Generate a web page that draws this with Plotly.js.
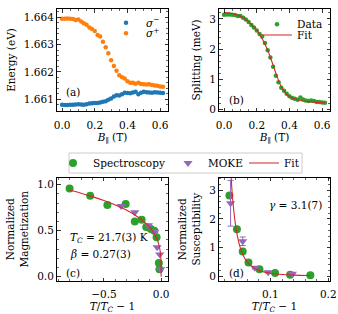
<!DOCTYPE html>
<html><head><meta charset="utf-8">
<script src="https://cdn.plot.ly/plotly-3.0.1.min.js"></script>
<style>html,body{margin:0;padding:0;background:#fff;}#chart{width:338px;height:314px;}</style>
</head><body><div id="chart"></div>
<script>
// ---------- data ----------
const fieldB = [0, 0.017, 0.033, 0.05, 0.067, 0.083, 0.1, 0.117, 0.133, 0.15, 0.167, 0.183, 0.2, 0.217, 0.233, 0.25, 0.267, 0.283, 0.3, 0.317, 0.333, 0.35, 0.367, 0.383, 0.4, 0.417, 0.433, 0.45, 0.467, 0.483, 0.5, 0.517, 0.533, 0.55, 0.567, 0.583, 0.6, 0.617];
const energySigmaMinus = [1.66080, 1.66079, 1.66079, 1.66080, 1.66080, 1.66081, 1.66082, 1.66081, 1.66080, 1.66082, 1.66084, 1.66085, 1.66086, 1.66086, 1.66088, 1.66091, 1.66093, 1.66098, 1.66103, 1.66110, 1.66115, 1.66114, 1.66118, 1.66124, 1.66123, 1.66122, 1.66125, 1.66127, 1.66118, 1.66124, 1.66127, 1.66126, 1.66125, 1.66124, 1.66126, 1.66125, 1.66124, 1.66123];
const energySigmaPlus = [1.66394, 1.66394, 1.66395, 1.66394, 1.66393, 1.66390, 1.66392, 1.66384, 1.66378, 1.66372, 1.66362, 1.66357, 1.66350, 1.66335, 1.66329, 1.66310, 1.66290, 1.66268, 1.66243, 1.66222, 1.66204, 1.66188, 1.66180, 1.66176, 1.66166, 1.66160, 1.66160, 1.66157, 1.66160, 1.66156, 1.66155, 1.66154, 1.66155, 1.66152, 1.66150, 1.66149, 1.66147, 1.66146];
const splittingData = [3.14, 3.15, 3.15, 3.14, 3.13, 3.10, 3.10, 3.04, 2.98, 2.90, 2.80, 2.72, 2.62, 2.50, 2.42, 2.20, 1.96, 1.72, 1.42, 1.12, 0.90, 0.72, 0.62, 0.52, 0.44, 0.38, 0.36, 0.32, 0.40, 0.33, 0.30, 0.28, 0.30, 0.28, 0.25, 0.25, 0.23, 0.22];
const fitB = [0, 0.05, 0.1, 0.15, 0.2, 0.225, 0.25, 0.275, 0.3, 0.325, 0.35, 0.375, 0.4, 0.45, 0.5, 0.55, 0.6, 0.617];
const fitSplitting = [3.21, 3.18, 3.09, 2.91, 2.62, 2.42, 2.17, 1.85, 1.47, 1.08, 0.76, 0.55, 0.43, 0.32, 0.27, 0.245, 0.225, 0.22];

const tSpecM = [-0.80, -0.62, -0.47, -0.31, -0.23, -0.17, -0.13, -0.09, -0.06, -0.04, -0.02, -0.015];
const magSpec = [0.96, 0.88, 0.78, 0.79, 0.60, 0.62, 0.54, 0.52, 0.50, 0.43, 0.15, 0.08];
const tMokeM = [-0.35, -0.23, -0.11, -0.055, -0.035, -0.012, -0.004];
const magMoke = [0.77, 0.70, 0.56, 0.49, 0.32, 0.24, 0.08];
const tFitM = [-0.8, -0.7, -0.6, -0.5, -0.4, -0.3, -0.2, -0.15, -0.1, -0.07, -0.05, -0.03, -0.02, -0.01, -0.005, -0.002, -0.001, -0.0003, 0];
const magFit = [0.942, 0.908, 0.871, 0.829, 0.781, 0.722, 0.647, 0.599, 0.537, 0.488, 0.445, 0.388, 0.348, 0.288, 0.239, 0.187, 0.155, 0.112, 0];

const tSpecChi = [0.029, 0.042, 0.052, 0.062, 0.081, 0.108, 0.134, 0.169];
const chiSpec = [2.82, 1.64, 0.86, 0.48, 0.24, 0.11, 0.05, 0.03];
const tMokeChi = [0.031, 0.052, 0.073, 0.096, 0.138];
const chiMoke = [2.55, 1.22, 0.29, 0.14, 0.08];
const chiMokeErr = [0.80, 0.15, 0.04, 0.03, 0.03];
const tFitChi = [0.030, 0.032, 0.035, 0.04, 0.045, 0.05, 0.055, 0.06, 0.07, 0.08, 0.09, 0.10, 0.12, 0.14, 0.168];
const chiFit = [4.22, 3.45, 2.61, 1.73, 1.20, 0.865, 0.644, 0.491, 0.305, 0.201, 0.140, 0.101, 0.057, 0.036, 0.020];

// ---------- styling ----------
const W = 338, H = 314;
const px = v => v / W, py = v => 1 - v / H;
const BLUE = '#1f77b4', ORANGE = '#ff7f0e', GREEN = '#2ca02c', RED = '#d62728', PURPLE = '#9467bd';
const FS = 10.5;
const FONT = 'DejaVu Serif';

function ax(extra) {
  return Object.assign({
    showline: true, linecolor: '#000', linewidth: 1, mirror: 'allticks',
    ticks: 'inside', ticklen: 3.5, tickwidth: 0.8, tickcolor: '#000',
    showgrid: false, zeroline: false, fixedrange: true,
    tickfont: {family: FONT, size: FS, color: '#000'},
  }, extra);
}
function minor(d) { return {dtick: d, ticks: 'inside', ticklen: 2, tickwidth: 0.6, tickcolor: '#000', showgrid: false}; }
function ttl(text, standoff) { return {text: text, font: {family: FONT, size: FS, color: '#000'}, standoff: standoff}; }

const colL = [px(57), px(168)], colR = [px(219), px(330)];
const rowT = [py(111), py(9)], rowB = [py(281), py(177.5)];

const traces = [
  {x: fieldB, y: energySigmaMinus, xaxis: 'x', yaxis: 'y', type: 'scatter', mode: 'markers', name: '<i>σ</i><sup>−</sup>',
   marker: {color: BLUE, size: 4.5}, legend: 'legend'},
  {x: fieldB, y: energySigmaPlus, xaxis: 'x', yaxis: 'y', type: 'scatter', mode: 'markers', name: '<i>σ</i><sup>+</sup>',
   marker: {color: ORANGE, size: 4.5}, legend: 'legend2'},
  {x: fieldB, y: splittingData, xaxis: 'x2', yaxis: 'y2', type: 'scatter', mode: 'markers', name: 'Data',
   marker: {color: GREEN, size: 4.5}, legend: 'legend3'},
  {x: fitB, y: fitSplitting, xaxis: 'x2', yaxis: 'y2', type: 'scatter', mode: 'lines', name: 'Fit',
   line: {color: RED, width: 1.1, shape: 'spline'}, legend: 'legend4'},
  {x: tSpecM, y: magSpec, xaxis: 'x3', yaxis: 'y3', type: 'scatter', mode: 'markers', name: 'Spectroscopy',
   marker: {color: GREEN, size: 8}, legend: 'legend5'},
  {x: tMokeM, y: magMoke, xaxis: 'x3', yaxis: 'y3', type: 'scatter', mode: 'markers', name: 'MOKE',
   marker: {color: PURPLE, size: 8, symbol: 'triangle-down'}, legend: 'legend6'},
  {x: tFitM, y: magFit, xaxis: 'x3', yaxis: 'y3', type: 'scatter', mode: 'lines', name: 'Fit',
   line: {color: RED, width: 1.1, shape: 'spline'}, legend: 'legend7'},
  {x: tSpecChi, y: chiSpec, xaxis: 'x4', yaxis: 'y4', type: 'scatter', mode: 'markers', name: 'Spectroscopy',
   marker: {color: GREEN, size: 8}, showlegend: false},
  {x: tMokeChi, y: chiMoke, xaxis: 'x4', yaxis: 'y4', type: 'scatter', mode: 'markers', name: 'MOKE',
   marker: {color: PURPLE, size: 8, symbol: 'triangle-down'}, showlegend: false,
   error_y: {type: 'data', array: chiMokeErr, visible: true, color: PURPLE, thickness: 1, width: 3}},
  {x: tFitChi, y: chiFit, xaxis: 'x4', yaxis: 'y4', type: 'scatter', mode: 'lines', name: 'Fit',
   line: {color: RED, width: 1.1, shape: 'spline'}, showlegend: false},
];

function leg(xp, yp) {
  return {x: px(xp), y: py(yp), xanchor: 'left', yanchor: 'middle', bgcolor: 'rgba(0,0,0,0)', borderwidth: 0,
          font: {family: FONT, size: FS, color: '#000'}, itemclick: false, itemdoubleclick: false};
}

const ann = (t, x, y, xa) => ({text: t, x: px(x), y: py(y), xref: 'paper', yref: 'paper', showarrow: false,
  xanchor: xa || 'left', yanchor: 'middle', font: {family: FONT, size: FS, color: '#000'}});

const layout = {
  width: W, height: H, margin: {l: 0, r: 0, t: 0, b: 0},
  paper_bgcolor: '#fff', plot_bgcolor: '#fff',
  font: {family: FONT, size: FS, color: '#000'},
  showlegend: true,
  xaxis: ax({domain: colL, anchor: 'y', range: [-0.031, 0.648], tick0: 0, dtick: 0.2, tickformat: '.1f', minor: minor(0.05),
    ticklabelstandoff: 4, title: ttl('<i>B</i><sub>∥</sub> (T)', 2)}),
  yaxis: ax({domain: rowT, anchor: 'x', range: [1.66057, 1.6643], tick0: 1.661, dtick: 0.001, tickformat: '.3f', minor: minor(0.0002),
    title: ttl('Energy (eV)', 6)}),
  xaxis2: ax({domain: colR, anchor: 'y2', range: [-0.031, 0.648], tick0: 0, dtick: 0.2, tickformat: '.1f', minor: minor(0.05),
    ticklabelstandoff: 4, title: ttl('<i>B</i><sub>∥</sub> (T)', 2)}),
  yaxis2: ax({domain: rowT, anchor: 'x2', range: [-0.05, 3.33], tick0: 0, dtick: 1, minor: minor(0.2),
    title: ttl('Splitting (meV)', 6)}),
  xaxis3: ax({domain: colL, anchor: 'y3', range: [-0.91, 0.06], tick0: 0, dtick: 0.5, tickformat: '.1f', minor: minor(0.1),
    ticklabelstandoff: 3, title: ttl('<i>T</i>/<i>T</i><sub><i>C</i></sub> − 1', 1)}),
  yaxis3: ax({domain: rowB, anchor: 'x3', range: [-0.047, 1.079], tick0: 0, dtick: 0.5, tickformat: '.1f', minor: minor(0.1),
    title: ttl('Normalized<br>Magnetization', 6)}),
  xaxis4: ax({domain: colR, anchor: 'y4', range: [0.011, 0.203], tick0: 0, dtick: 0.1, tickformat: '.1f', minor: minor(0.02),
    ticklabelstandoff: 3, title: ttl('<i>T</i>/<i>T</i><sub><i>C</i></sub> − 1', 1)}),
  yaxis4: ax({domain: rowB, anchor: 'x4', range: [-0.17, 3.45], tick0: 0, dtick: 1, minor: minor(0.2),
    title: ttl('Normalized<br>Susceptibility', 6)}),
  legend: leg(106, 22.7),
  legend2: leg(106, 33.3),
  legend3: leg(257, 24.3),
  legend4: leg(257, 35),
  legend5: leg(53, 163),
  legend6: leg(168, 163),
  legend7: leg(244, 163),
  shapes: [
    {type: 'rect', xref: 'paper', yref: 'paper', x0: px(69), x1: px(302), y0: py(173), y1: py(153),
     line: {color: '#cccccc', width: 1}, fillcolor: 'rgba(255,255,255,0.8)', layer: 'above'}
  ],
  annotations: [
    ann('(a)', 64, 92), ann('(b)', 227, 100), ann('(c)', 64, 273), ann('(d)', 227, 273),
    ann('<i>T</i><sub><i>C</i></sub> = 21.7(3) K', 68, 238),
    ann('<i>β</i> = 0.27(3)', 68, 253.5),
    ann('<i>γ</i> = 3.1(7)', 267, 205),
  ],
};

Plotly.newPlot('chart', traces, layout, {displayModeBar: false, staticPlot: true});
</script>
</body></html>
